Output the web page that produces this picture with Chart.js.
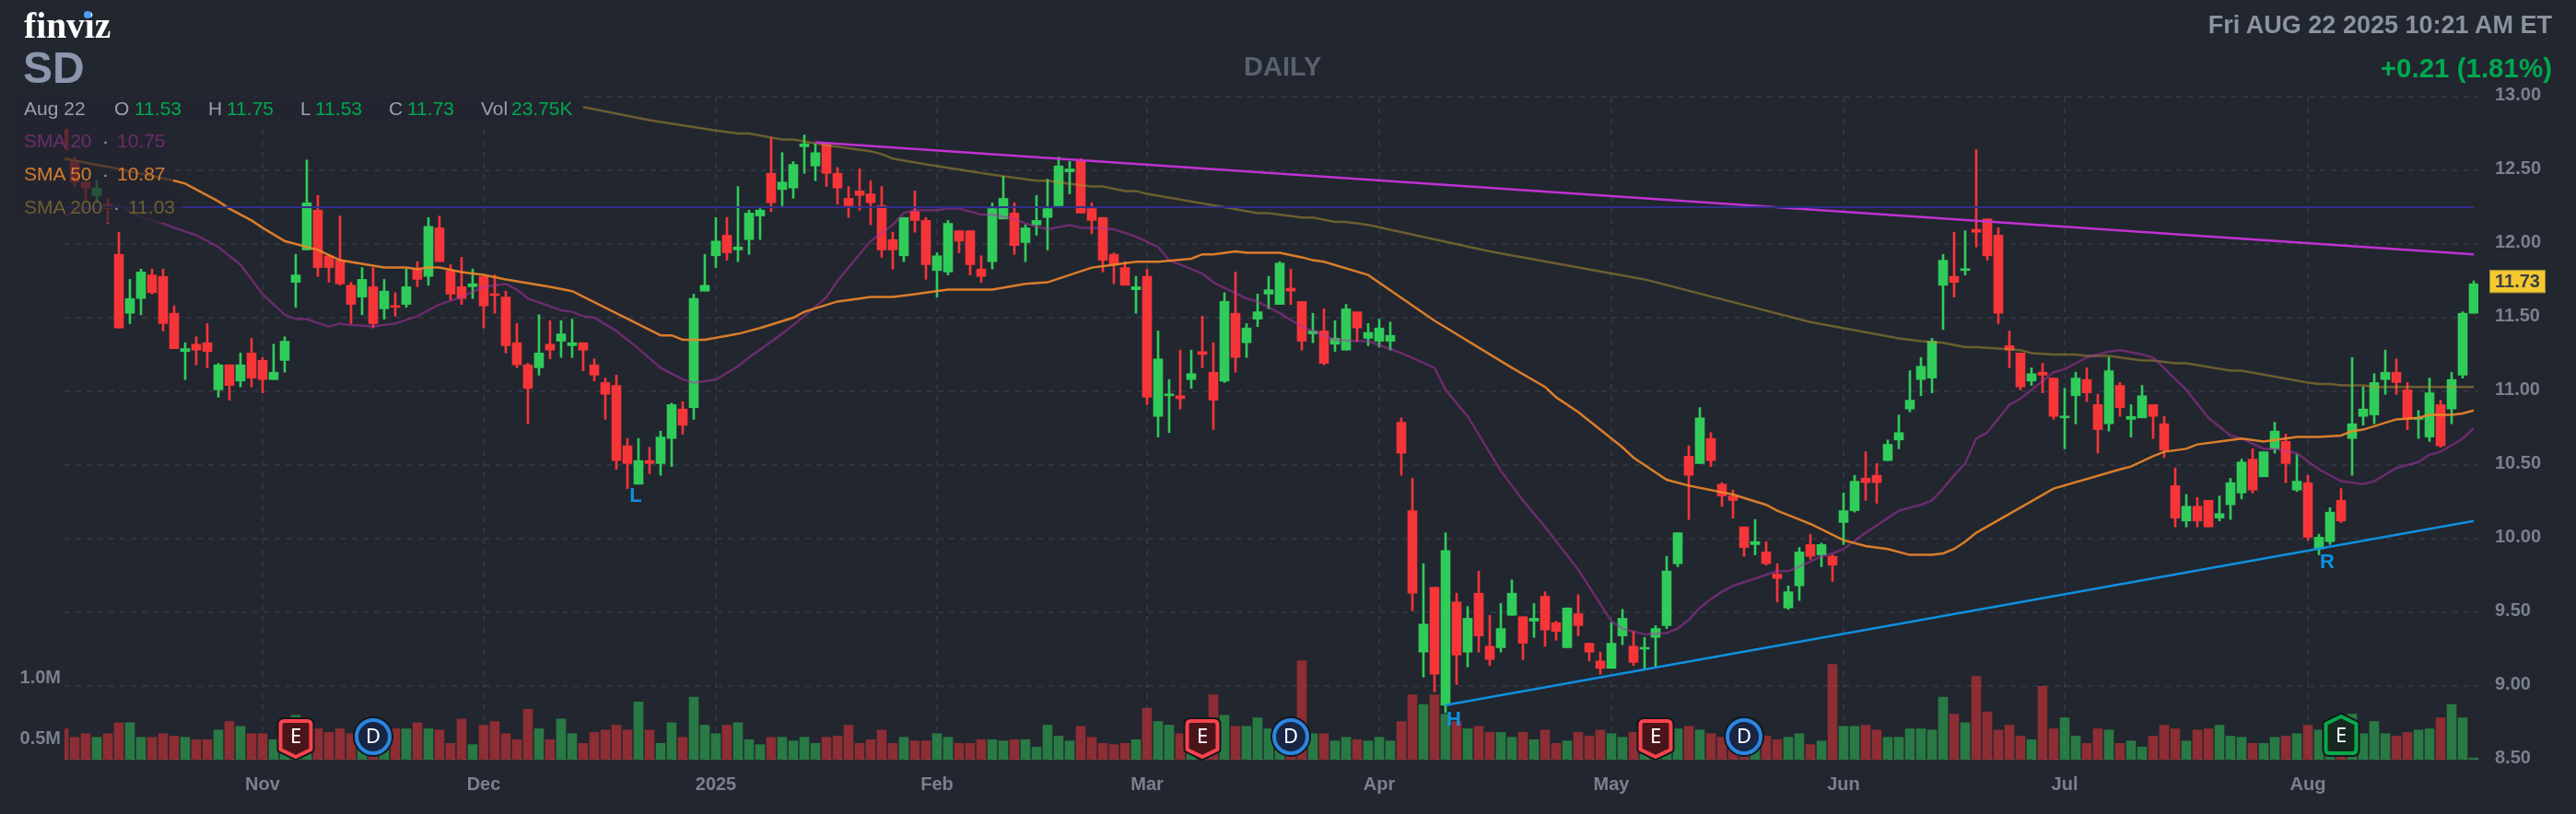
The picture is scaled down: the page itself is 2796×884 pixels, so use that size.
<!DOCTYPE html>
<html>
<head>
<meta charset="utf-8">
<title>SD daily</title>
<style>
  html, body { margin: 0; padding: 0; background: #22262f; }
  #wrap { position: relative; width: 2796px; height: 884px; overflow: hidden; font-family: "Liberation Sans", Arial, sans-serif; }
  #chart { position: absolute; left: 0; top: 0; }
  .t { position: absolute; white-space: nowrap; line-height: 1; }
  .row { position: absolute; left: 14px; height: 36px; background: rgba(34, 38, 47, 0.72); }
  .lab { color: #9a9fac; font-size: 21px; }
  .val { color: #00a84f; font-size: 21px; }
</style>
</head>
<body>
<div id="wrap">
  <canvas id="chart" width="2796" height="884"></canvas>

  <div class="row" style="top:99px;width:617px"></div>
  <div class="row" style="top:134px;width:165px"></div>
  <div class="row" style="top:170px;width:174px"></div>
  <div class="row" style="top:206px;width:184px"></div>

  <div class="t" style="left:26px;top:5px;font:bold 39.5px 'Liberation Serif',serif;color:#fff;letter-spacing:0">finviz</div>
  <div style="position:absolute;left:91px;top:12px;width:8px;height:8px;border-radius:50%;background:#4a9eff"></div>
  <div class="t" style="left:25px;top:50px;font-size:48px;font-weight:bold;color:#8b95ad">SD</div>

  <div class="t lab" style="left:26px;top:107px">Aug 22</div>
  <div class="t lab" style="left:124px;top:107px">O</div><div class="t val" style="left:146px;top:107px">11.53</div>
  <div class="t lab" style="left:226px;top:107px">H</div><div class="t val" style="left:246px;top:107px">11.75</div>
  <div class="t lab" style="left:326px;top:107px">L</div><div class="t val" style="left:342px;top:107px">11.53</div>
  <div class="t lab" style="left:422px;top:107px">C</div><div class="t val" style="left:442px;top:107px">11.73</div>
  <div class="t lab" style="left:522px;top:107px">Vol</div><div class="t val" style="left:555px;top:107px">23.75K</div>

  <div class="t" style="left:26px;top:142px;font-size:21px;color:#6e2c6c">SMA 20</div>
  <div class="t" style="left:111px;top:142px;font-size:21px;color:#9a9fac">·</div>
  <div class="t" style="left:127px;top:142px;font-size:21px;color:#6e2c6c">10.75</div>
  <div class="t" style="left:26px;top:178px;font-size:21px;color:#d67c2e">SMA 50</div>
  <div class="t" style="left:111px;top:178px;font-size:21px;color:#9a9fac">·</div>
  <div class="t" style="left:127px;top:178px;font-size:21px;color:#d67c2e">10.87</div>
  <div class="t" style="left:26px;top:214px;font-size:21px;color:#6e5f32">SMA 200</div>
  <div class="t" style="left:123px;top:214px;font-size:21px;color:#9a9fac">·</div>
  <div class="t" style="left:139px;top:214px;font-size:21px;color:#6e5f32">11.03</div>

  <div class="t" style="left:1350px;top:58px;font-size:29px;font-weight:bold;color:#596070">DAILY</div>
  <div class="t" style="right:26px;top:14px;font-size:27px;font-weight:bold;color:#8b92a0">Fri AUG 22 2025 10:21 AM ET</div>
  <div class="t" style="right:26px;top:59px;font-size:29.5px;font-weight:bold;color:#00a84f">+0.21 (1.81%)</div>
</div>

<script src="https://cdn.jsdelivr.net/npm/chart.js@4/dist/chart.umd.min.js"></script>
<script>
const opens = [
  12.78, 12.56, 12.42, 12.33, 12.27, 11.93, 11.53, 11.63, 11.79, 11.78,
  11.53, 11.27, 11.32, 11.33, 11.01, 11.18, 11.07, 11.26, 11.21, 11.08,
  11.21, 11.74, 11.96, 12.23, 11.92, 11.89, 11.72, 11.64, 11.71, 11.56,
  11.58, 11.59, 11.83, 11.78, 12.11, 11.82, 11.71, 11.71, 11.78, 11.66,
  11.64, 11.33, 11.18, 11.16, 11.32, 11.34, 11.31, 11.33, 11.18, 11.06,
  11.04, 10.63, 10.37, 10.53, 10.51, 10.68, 10.88, 10.89, 11.68, 11.92,
  12.06, 11.96, 12.03, 12.19, 12.48, 12.37, 12.38, 12.66, 12.53, 12.68,
  12.48, 12.31, 12.36, 12.34, 12.26, 12.03, 11.92, 12.22, 12.16, 11.82,
  11.81, 12.09, 12.09, 11.83, 11.88, 12.17, 12.21, 12.01, 12.13, 12.18,
  12.26, 12.49, 12.57, 12.24, 12.18, 11.93, 11.84, 11.69, 11.78, 10.83,
  10.97, 10.97, 11.08, 11.27, 11.13, 11.07, 11.53, 11.33, 11.49, 11.66,
  11.59, 11.70, 11.61, 11.39, 11.41, 11.32, 11.28, 11.54, 11.36, 11.34,
  11.34, 10.79, 10.19, 9.23, 9.67, 8.87, 9.57, 9.23, 9.63, 9.27,
  9.26, 9.48, 9.47, 9.44, 9.61, 9.43, 9.26, 9.49, 9.29, 9.17,
  9.12, 9.34, 9.27, 9.25, 9.33, 9.41, 9.83, 10.56, 10.51, 10.68,
  10.37, 10.29, 10.08, 9.96, 9.91, 9.76, 9.53, 9.68, 9.96, 9.89,
  9.88, 10.11, 10.19, 10.41, 10.43, 10.53, 10.67, 10.88, 11.08, 11.09,
  11.72, 11.78, 11.82, 12.10, 12.17, 12.06, 11.31, 11.26, 11.07, 11.13,
  11.09, 10.82, 10.97, 11.08, 10.91, 10.78, 11.04, 10.81, 10.82, 10.91,
  10.78, 10.36, 10.12, 10.22, 10.26, 10.14, 10.23, 10.31, 10.54, 10.42,
  10.61, 10.66, 10.33, 10.38, 9.93, 9.98, 10.26, 10.68, 10.83, 10.84,
  11.08, 11.13, 11.01, 10.81, 10.69, 10.91, 10.88, 11.11, 11.53,
];
const highs = [
  12.78, 12.59, 12.42, 12.43, 12.31, 12.08, 11.76, 11.83, 11.83, 11.83,
  11.58, 11.33, 11.37, 11.46, 11.19, 11.18, 11.26, 11.36, 11.23, 11.32,
  11.37, 11.93, 12.57, 12.33, 11.93, 12.19, 11.74, 11.84, 11.84, 11.76,
  11.67, 11.83, 11.88, 12.18, 12.19, 11.86, 11.91, 11.83, 11.78, 11.79,
  11.68, 11.46, 11.19, 11.52, 11.48, 11.48, 11.49, 11.33, 11.22, 11.09,
  11.11, 10.68, 10.68, 10.62, 10.73, 10.92, 10.93, 11.66, 11.93, 12.18,
  12.18, 12.39, 12.23, 12.24, 12.72, 12.62, 12.56, 12.74, 12.68, 12.69,
  12.52, 12.39, 12.51, 12.43, 12.39, 12.08, 12.18, 12.36, 12.18, 11.94,
  12.16, 12.09, 12.09, 11.92, 12.28, 12.46, 12.28, 12.13, 12.33, 12.44,
  12.59, 12.56, 12.58, 12.28, 12.18, 11.94, 11.88, 11.78, 11.83, 11.41,
  11.08, 11.28, 11.28, 11.51, 11.33, 11.67, 11.81, 11.46, 11.66, 11.78,
  11.88, 11.83, 11.61, 11.53, 11.56, 11.48, 11.59, 11.54, 11.46, 11.49,
  11.47, 10.82, 10.41, 9.83, 9.67, 10.04, 9.63, 9.54, 9.78, 9.48,
  9.56, 9.72, 9.47, 9.56, 9.64, 9.44, 9.53, 9.62, 9.29, 9.23,
  9.43, 9.52, 9.37, 9.33, 9.41, 9.88, 10.04, 10.63, 10.89, 10.72,
  10.38, 10.33, 10.08, 10.13, 9.98, 9.83, 9.68, 9.94, 10.03, 9.97,
  9.89, 10.31, 10.43, 10.59, 10.51, 10.67, 10.84, 11.14, 11.23, 11.36,
  11.93, 12.08, 12.09, 12.64, 12.17, 12.11, 11.41, 11.26, 11.16, 11.19,
  11.09, 11.02, 11.13, 11.16, 10.98, 11.23, 11.06, 10.91, 11.04, 10.91,
  10.83, 10.48, 10.30, 10.28, 10.26, 10.29, 10.41, 10.54, 10.61, 10.59,
  10.79, 10.71, 10.57, 10.43, 10.03, 10.21, 10.34, 11.23, 11.03, 11.12,
  11.28, 11.22, 11.06, 10.87, 11.09, 10.94, 11.13, 11.54, 11.75,
];
const lows = [
  12.64, 12.39, 12.29, 12.28, 12.14, 11.43, 11.46, 11.52, 11.66, 11.41,
  11.29, 11.08, 11.18, 11.16, 10.96, 10.94, 11.03, 11.03, 10.99, 11.08,
  11.13, 11.57, 11.96, 11.78, 11.74, 11.72, 11.46, 11.52, 11.43, 11.49,
  11.51, 11.57, 11.71, 11.72, 11.88, 11.62, 11.59, 11.63, 11.43, 11.53,
  11.26, 11.16, 10.78, 11.11, 11.22, 11.23, 11.23, 11.14, 11.07, 10.81,
  10.47, 10.34, 10.37, 10.44, 10.43, 10.49, 10.71, 10.81, 11.68, 11.84,
  11.89, 11.88, 11.93, 12.03, 12.22, 12.26, 12.31, 12.48, 12.43, 12.39,
  12.27, 12.18, 12.23, 12.13, 11.91, 11.83, 11.88, 12.08, 11.76, 11.64,
  11.79, 11.94, 11.79, 11.74, 11.83, 12.17, 11.93, 11.88, 12.06, 11.96,
  12.26, 12.34, 12.21, 12.07, 11.81, 11.73, 11.72, 11.53, 10.91, 10.69,
  10.72, 10.88, 11.02, 11.16, 10.74, 11.06, 11.13, 11.23, 11.44, 11.56,
  11.59, 11.59, 11.28, 11.33, 11.18, 11.27, 11.28, 11.34, 11.31, 11.30,
  11.28, 10.43, 9.51, 9.06, 8.96, 8.82, 9.01, 9.13, 9.23, 9.14,
  9.23, 9.48, 9.18, 9.33, 9.27, 9.31, 9.26, 9.34, 9.17, 9.08,
  9.12, 9.28, 9.14, 9.12, 9.13, 9.39, 9.81, 10.13, 10.51, 10.49,
  10.22, 10.14, 9.88, 9.89, 9.82, 9.57, 9.52, 9.58, 9.86, 9.81,
  9.71, 9.96, 10.18, 10.26, 10.24, 10.53, 10.61, 10.86, 10.97, 10.99,
  11.42, 11.64, 11.79, 11.98, 11.89, 11.46, 11.16, 11.01, 11.04, 10.99,
  10.81, 10.61, 10.78, 10.93, 10.58, 10.73, 10.83, 10.69, 10.82, 10.68,
  10.55, 10.08, 10.08, 10.08, 10.08, 10.12, 10.13, 10.27, 10.31, 10.42,
  10.58, 10.38, 10.32, 9.99, 9.89, 9.96, 10.11, 10.43, 10.77, 10.78,
  10.98, 10.98, 10.74, 10.68, 10.66, 10.62, 10.78, 11.09, 11.53,
];
const closes = [
  12.64, 12.42, 12.38, 12.38, 12.24, 11.43, 11.63, 11.81, 11.67, 11.46,
  11.29, 11.29, 11.28, 11.27, 11.18, 11.04, 11.18, 11.09, 11.08, 11.13,
  11.34, 11.79, 12.28, 11.84, 11.84, 11.73, 11.59, 11.76, 11.46, 11.68,
  11.57, 11.71, 11.76, 12.12, 11.88, 11.66, 11.63, 11.73, 11.58, 11.65,
  11.31, 11.18, 11.02, 11.26, 11.28, 11.39, 11.33, 11.28, 11.11, 10.98,
  10.53, 10.51, 10.53, 10.51, 10.69, 10.91, 10.77, 11.63, 11.72, 12.02,
  11.94, 11.98, 12.21, 12.23, 12.28, 12.42, 12.54, 12.68, 12.62, 12.48,
  12.38, 12.26, 12.33, 12.28, 11.96, 11.96, 12.18, 12.16, 11.86, 11.92,
  12.14, 12.02, 11.86, 11.78, 12.24, 12.31, 11.99, 12.11, 12.16, 12.24,
  12.53, 12.51, 12.21, 12.16, 11.89, 11.86, 11.72, 11.71, 10.96, 11.22,
  10.98, 10.95, 11.12, 11.25, 10.94, 11.61, 11.23, 11.43, 11.54, 11.69,
  11.87, 11.68, 11.34, 11.41, 11.19, 11.36, 11.56, 11.43, 11.40, 11.43,
  11.38, 10.58, 9.63, 9.42, 9.08, 9.92, 9.21, 9.46, 9.34, 9.18,
  9.39, 9.63, 9.29, 9.46, 9.38, 9.37, 9.53, 9.41, 9.23, 9.12,
  9.29, 9.46, 9.16, 9.26, 9.39, 9.78, 10.04, 10.43, 10.82, 10.53,
  10.29, 10.26, 9.94, 9.98, 9.83, 9.73, 9.64, 9.91, 9.88, 9.96,
  9.82, 10.19, 10.39, 10.38, 10.38, 10.64, 10.72, 10.94, 11.17, 11.34,
  11.89, 11.74, 11.83, 12.08, 11.92, 11.53, 11.28, 11.03, 11.12, 11.11,
  10.83, 10.83, 11.09, 10.99, 10.74, 11.14, 10.89, 10.83, 10.97, 10.83,
  10.60, 10.14, 10.22, 10.12, 10.08, 10.17, 10.38, 10.52, 10.33, 10.59,
  10.73, 10.51, 10.39, 10.01, 10.01, 10.18, 10.12, 10.78, 10.88, 11.06,
  11.13, 11.06, 10.81, 10.82, 10.99, 10.63, 11.08, 11.53, 11.73,
];
// volume in millions
const volumes = [
  0.58, 0.51, 0.54, 0.51, 0.54, 0.63, 0.63, 0.51, 0.51, 0.54,
  0.52, 0.51, 0.49, 0.49, 0.57, 0.64, 0.60, 0.54, 0.54, 0.49,
  0.52, 0.69, 0.56, 0.58, 0.55, 0.58, 0.54, 0.52, 0.55, 0.52,
  0.58, 0.58, 0.63, 0.58, 0.57, 0.46, 0.66, 0.45, 0.61, 0.64,
  0.54, 0.49, 0.74, 0.58, 0.49, 0.66, 0.54, 0.46, 0.55, 0.57,
  0.61, 0.57, 0.80, 0.57, 0.46, 0.63, 0.51, 0.84, 0.61, 0.54,
  0.61, 0.63, 0.49, 0.45, 0.51, 0.51, 0.48, 0.51, 0.46, 0.51,
  0.52, 0.61, 0.46, 0.49, 0.57, 0.46, 0.51, 0.48, 0.48, 0.54,
  0.51, 0.46, 0.46, 0.49, 0.49, 0.48, 0.49, 0.49, 0.43, 0.61,
  0.52, 0.48, 0.60, 0.51, 0.46, 0.45, 0.46, 0.49, 0.75, 0.64,
  0.61, 0.54, 0.52, 0.50, 0.86, 0.69, 0.60, 0.60, 0.67, 0.58,
  0.55, 0.55, 1.14, 0.54, 0.54, 0.48, 0.51, 0.49, 0.48, 0.51,
  0.48, 0.64, 0.86, 0.78, 0.86, 0.70, 0.64, 0.58, 0.60, 0.55,
  0.55, 0.51, 0.55, 0.49, 0.57, 0.46, 0.48, 0.55, 0.52, 0.57,
  0.54, 0.51, 0.55, 0.52, 0.55, 0.55, 0.58, 0.60, 0.57, 0.54,
  0.51, 0.52, 0.50, 0.47, 0.52, 0.49, 0.51, 0.54, 0.45, 0.48,
  1.11, 0.60, 0.60, 0.61, 0.57, 0.51, 0.51, 0.58, 0.58, 0.57,
  0.84, 0.70, 0.63, 1.01, 0.72, 0.57, 0.61, 0.52, 0.49, 0.93,
  0.58, 0.67, 0.52, 0.46, 0.58, 0.57, 0.46, 0.48, 0.43, 0.52,
  0.61, 0.58, 0.48, 0.57, 0.58, 0.61, 0.52, 0.51, 0.46, 0.46,
  0.51, 0.52, 0.54, 0.61, 0.57, 0.55, 0.50, 0.70, 0.54, 0.64,
  0.54, 0.52, 0.55, 0.57, 0.58, 0.67, 0.78, 0.67, 0.34,
];

const sma20Idx = [
  0, 2, 5, 7, 9, 10, 12, 14, 16, 18, 20, 21, 22, 24, 25, 26, 28, 30, 32, 34, 36, 38, 40, 41, 42, 45, 46, 47, 48, 50,
  52, 54, 56, 57, 59, 61, 62, 65, 67, 69, 70, 73, 75, 76, 77, 79, 80, 81, 83, 84, 86, 87, 89, 91, 92, 93, 95, 97, 99, 100,
  102, 103, 104, 107, 108, 110, 112, 114, 115, 117, 118, 121, 124, 125, 127, 130, 132, 134, 137, 140, 141, 143, 145, 146, 147, 148, 149, 150, 151, 155,
  156, 157, 159, 160, 161, 163, 165, 166, 167, 168, 169, 170, 171, 172, 173, 174, 176, 177, 180, 181, 183, 185, 186, 188, 189, 192, 194, 196, 197, 199,
  200, 202, 204, 206, 208, 209, 211, 213, 214, 215, 217, 218,
];
const sma20 = [
  12.19, 12.24, 12.26, 12.18, 12.14, 12.11, 12.06, 11.98, 11.86, 11.66, 11.52, 11.49, 11.49, 11.44, 11.46, 11.45, 11.44, 11.46, 11.51, 11.59, 11.64, 11.71, 11.73, 11.69, 11.63, 11.55, 11.54, 11.51, 11.50, 11.41,
  11.29, 11.16, 11.08, 11.06, 11.08, 11.17, 11.23, 11.39, 11.51, 11.64, 11.75, 12.02, 12.13, 12.21, 12.23, 12.23, 12.24, 12.24, 12.20, 12.20, 12.17, 12.14, 12.10, 12.13, 12.11, 12.11, 12.10, 12.05, 11.98, 11.89,
  11.83, 11.80, 11.74, 11.63, 11.61, 11.53, 11.44, 11.38, 11.35, 11.34, 11.34, 11.26, 11.16, 11.01, 10.83, 10.46, 10.26, 10.08, 9.79, 9.44, 9.39, 9.35, 9.36, 9.39, 9.45, 9.53, 9.59, 9.64, 9.68, 9.78,
  9.78, 9.81, 9.88, 9.90, 9.93, 10.04, 10.14, 10.19, 10.21, 10.23, 10.26, 10.34, 10.43, 10.51, 10.68, 10.72, 10.91, 10.95, 11.13, 11.15, 11.23, 11.27, 11.28, 11.25, 11.23, 11.01, 10.82, 10.70, 10.68, 10.61,
  10.61, 10.58, 10.47, 10.39, 10.37, 10.39, 10.48, 10.52, 10.57, 10.59, 10.68, 10.75,
];
const sma50Idx = [
  0, 5, 10, 11, 14, 15, 17, 18, 20, 23, 25, 29, 31, 32, 33, 34, 36, 38, 40, 44, 46, 54, 55, 56, 58, 61, 63, 66, 67, 70,
  72, 73, 75, 77, 78, 80, 84, 87, 89, 93, 95, 97, 99, 102, 103, 104, 106, 107, 110, 112, 113, 114, 118, 124, 131, 134, 135, 137, 141, 142,
  145, 147, 151, 154, 155, 157, 158, 161, 163, 165, 167, 169, 170, 171, 172, 173, 180, 186, 187, 189, 190, 192, 193, 195, 197, 199, 201, 202, 204, 206,
  207, 208, 211, 213, 214, 216, 217, 218,
];
const sma50 = [
  12.58, 12.51, 12.43, 12.41, 12.29, 12.24, 12.16, 12.11, 12.02, 11.96, 11.89, 11.84, 11.84, 11.83, 11.84, 11.84, 11.81, 11.79, 11.76, 11.71, 11.68, 11.38, 11.38, 11.35, 11.35, 11.39, 11.43, 11.50, 11.54, 11.61,
  11.63, 11.64, 11.64, 11.66, 11.67, 11.69, 11.69, 11.73, 11.74, 11.84, 11.86, 11.88, 11.88, 11.90, 11.93, 11.93, 11.95, 11.94, 11.94, 11.91, 11.89, 11.88, 11.79, 11.48, 11.16, 11.03, 10.96, 10.86, 10.62, 10.55,
  10.40, 10.36, 10.30, 10.23, 10.19, 10.13, 10.10, 9.99, 9.95, 9.93, 9.89, 9.89, 9.90, 9.93, 9.98, 10.04, 10.34, 10.47, 10.49, 10.56, 10.59, 10.61, 10.64, 10.66, 10.68, 10.66, 10.68, 10.69, 10.69, 10.70,
  10.73, 10.74, 10.81, 10.82, 10.84, 10.84, 10.85, 10.87,
];
const sma200Idx = [
  47, 53, 59, 61, 62, 65, 66, 69, 73, 74, 75, 78, 84, 88, 89, 91, 93, 94, 96, 97, 98, 105, 108, 109, 112, 113, 115, 116, 118, 129,
  143, 158, 166, 168, 170, 172, 173, 175, 177, 178, 180, 182, 183, 185, 186, 188, 189, 191, 192, 196, 197, 203, 204, 205, 206, 208, 209, 218,
];
const sma200 = [
  12.93, 12.84, 12.77, 12.75, 12.75, 12.71, 12.71, 12.67, 12.63, 12.61, 12.58, 12.54, 12.47, 12.43, 12.43, 12.41, 12.39, 12.39, 12.36, 12.36, 12.34, 12.25, 12.21, 12.21, 12.18, 12.18, 12.15, 12.15, 12.13, 11.95,
  11.76, 11.47, 11.36, 11.34, 11.33, 11.30, 11.30, 11.29, 11.28, 11.26, 11.25, 11.25, 11.24, 11.24, 11.23, 11.21, 11.21, 11.19, 11.19, 11.14, 11.14, 11.06, 11.05, 11.05, 11.04, 11.04, 11.03, 11.03,
];

// drawn trend lines: [index, price] pairs
const resistIdx = [68, 218];
const resistLine = [12.69, 11.93];
const supportIdx = [125, 218];
const supportLine = [8.87, 10.12];
const levelIdx = [0, 218];
const levelLine = [12.25, 12.25];

const monthIdx = [18, 38, 59, 79, 98, 119, 140, 161, 181, 203];
const monthLabels = ["Nov", "Dec", "2025", "Feb", "Mar", "Apr", "May", "Jun", "Jul", "Aug"];
const volTicks = [0.5, 1.0];

const patternLetters = ["L", "H", "R"];
const patternIdx = [51, 125, 204];
const earningsIdx = [21, 103, 144];
const dividendIdx = [28, 111, 152];
const earningsUpIdx = [206];

const GREEN = "#30cc5a";
const RED = "#f63538";
const TICK = "#7a8090";
const GRID = "#30343f";
const FONT = "'Liberation Sans', Arial, sans-serif";

const candleIdx = closes.map((_, i) => i);
const candleColors = closes.map((c, i) => (c >= opens[i] ? GREEN : RED));
const volumeColors = closes.map((c, i) => (c >= opens[i] ? "rgba(48,204,90,0.5)" : "rgba(246,53,56,0.5)"));

function linePoints(idx, values) {
  return idx.map((x, k) => ({ x, y: values[k] }));
}

function lineSet(idx, values, color, order, width = 2.5) {
  return {
    type: "line",
    data: linePoints(idx, values),
    borderColor: color,
    borderWidth: width,
    pointRadius: 0,
    tension: 0,
    order,
    yAxisID: "y",
  };
}

function shield(ctx, x, top, w, h, tip) {
  const l = x - w / 2;
  const r = x + w / 2;
  ctx.beginPath();
  ctx.moveTo(l + 4, top);
  ctx.lineTo(r - 4, top);
  ctx.quadraticCurveTo(r, top, r, top + 4);
  ctx.lineTo(r, top + h - tip);
  ctx.lineTo(x, top + h);
  ctx.lineTo(l, top + h - tip);
  ctx.lineTo(l, top + 4);
  ctx.quadraticCurveTo(l, top, l + 4, top);
  ctx.closePath();
}

function house(ctx, x, top, w, h, tip) {
  const l = x - w / 2;
  const r = x + w / 2;
  const b = top + h;
  ctx.beginPath();
  ctx.moveTo(x, top);
  ctx.lineTo(r, top + tip);
  ctx.lineTo(r, b - 4);
  ctx.quadraticCurveTo(r, b, r - 4, b);
  ctx.lineTo(l + 4, b);
  ctx.quadraticCurveTo(l, b, l, b - 4);
  ctx.lineTo(l, top + tip);
  ctx.closePath();
}

function paintBadge(ctx, fill, stroke) {
  ctx.lineJoin = "round";
  ctx.lineWidth = 8;
  ctx.strokeStyle = "#14161c";
  ctx.stroke();
  ctx.fillStyle = fill;
  ctx.fill();
  ctx.lineWidth = 4;
  ctx.strokeStyle = stroke;
  ctx.stroke();
}

function badgeLetter(ctx, letter, x, y) {
  ctx.fillStyle = "#ffffff";
  ctx.font = `22px 'Noto Sans', ${FONT}`;
  ctx.textAlign = "center";
  ctx.textBaseline = "middle";
  ctx.fillText(letter, x, y);
}

const marksPlugin = {
  id: "marks",
  afterDatasetsDraw(chart) {
    const { ctx, scales, chartArea } = chart;
    const xs = scales.x;
    const ys = scales.y;
    const bottom = chartArea.bottom;
    ctx.save();

    // pattern letters under the candle lows
    ctx.fillStyle = "#0f8fe0";
    ctx.font = `bold 22px ${FONT}`;
    ctx.textAlign = "center";
    ctx.textBaseline = "middle";
    patternLetters.forEach((letter, k) => {
      const i = patternIdx[k];
      ctx.fillText(letter, xs.getPixelForValue(i) + 9, ys.getPixelForValue(lows[i]) + 8);
    });

    earningsIdx.forEach((i) => {
      const x = xs.getPixelForValue(i);
      shield(ctx, x, bottom - 42, 33, 39, 8);
      paintBadge(ctx, "#4a151a", "#f8434d");
      badgeLetter(ctx, "E", x, bottom - 24);
    });

    dividendIdx.forEach((i) => {
      const x = xs.getPixelForValue(i);
      ctx.beginPath();
      ctx.arc(x, bottom - 25, 18, 0, Math.PI * 2);
      paintBadge(ctx, "#182544", "#2b86e0");
      badgeLetter(ctx, "D", x, bottom - 24);
    });

    earningsUpIdx.forEach((i) => {
      const x = xs.getPixelForValue(i);
      house(ctx, x, bottom - 47, 33, 40, 8);
      paintBadge(ctx, "#16281f", "#0aa84a");
      badgeLetter(ctx, "E", x, bottom - 25);
    });

    // last price tag on the axis
    const last = closes[closes.length - 1];
    const tagY = ys.getPixelForValue(last) - 3;
    ctx.fillStyle = "#f5c830";
    ctx.strokeStyle = "#a08a2c";
    ctx.lineWidth = 1;
    ctx.fillRect(2702, tagY - 12, 61, 25);
    ctx.strokeRect(2702.5, tagY - 11.5, 60, 24);
    ctx.fillStyle = "#3c3f46";
    ctx.font = `bold 20px ${FONT}`;
    ctx.textAlign = "left";
    ctx.textBaseline = "middle";
    ctx.fillText(last.toFixed(2), 2708, tagY + 1);

    ctx.restore();
  },
};

new Chart(document.getElementById("chart"), {
  data: {
    datasets: [
      {
        type: "bar",
        data: linePoints(candleIdx, volumes),
        backgroundColor: volumeColors,
        barThickness: 10,
        grouped: false,
        order: 6,
        yAxisID: "vol",
      },
      {
        type: "bar",
        data: linePoints(candleIdx, lows.map((l, i) => [l, highs[i]])),
        backgroundColor: candleColors,
        barThickness: 2,
        grouped: false,
        order: 5,
        yAxisID: "y",
      },
      {
        type: "bar",
        data: linePoints(candleIdx, opens.map((o, i) => [o, closes[i]])),
        backgroundColor: candleColors,
        barThickness: 10,
        minBarLength: 2,
        grouped: false,
        order: 4,
        yAxisID: "y",
      },
      lineSet(sma20Idx, sma20, "rgba(180,50,170,0.5)", 3),
      lineSet(sma200Idx, sma200, "rgba(180,150,50,0.5)", 3),
      lineSet(sma50Idx, sma50, "rgba(238,135,42,0.9)", 2),
      lineSet(levelIdx, levelLine, "#30308c", 1, 2),
      lineSet(resistIdx, resistLine, "#c032d2", 1),
      lineSet(supportIdx, supportLine, "#0f8fe0", 1),
    ],
  },
  options: {
    responsive: false,
    animation: false,
    devicePixelRatio: 1,
    parsing: { xAxisKey: "x", yAxisKey: "y" },
    layout: { padding: { top: 105, left: 0, right: 0, bottom: 0 } },
    plugins: { legend: { display: false }, tooltip: { enabled: false } },
    scales: {
      x: {
        type: "linear",
        offset: false,
        min: 1 / 12,
        max: 218 + 5 / 12,
        afterBuildTicks(scale) {
          scale.ticks = monthIdx.map((value) => ({ value }));
        },
        afterFit(scale) {
          scale.height = 59;
        },
        grid: { color: GRID, lineWidth: 2, drawTicks: false, offset: false },
        border: { display: false, dash: [6, 6] },
        ticks: {
          autoSkip: false,
          maxRotation: 0,
          padding: 15,
          color: TICK,
          font: { family: FONT, size: 20, weight: "bold" },
          callback(value) {
            return monthLabels[monthIdx.indexOf(value)];
          },
        },
      },
      y: {
        position: "right",
        min: 8.5,
        max: 13,
        afterFit(scale) {
          scale.width = 106;
        },
        grid: { color: GRID, lineWidth: 2, drawTicks: false },
        border: { display: false, dash: [6, 6] },
        ticks: {
          stepSize: 0.5,
          padding: 18,
          labelOffset: -2,
          color: TICK,
          font: { family: FONT, size: 20, weight: "bold" },
          callback(value) {
            return value.toFixed(2);
          },
        },
      },
      vol: {
        position: "left",
        min: 0.326,
        max: 5.78,
        afterBuildTicks(scale) {
          scale.ticks = volTicks.map((value) => ({ value }));
        },
        afterFit(scale) {
          scale.width = 70;
        },
        grid: { display: false, drawTicks: false },
        border: { display: false },
        ticks: {
          autoSkip: false,
          padding: 4,
          color: TICK,
          font: { family: FONT, size: 20, weight: "bold" },
          callback(value) {
            return `${value.toFixed(1)}M`;
          },
        },
      },
    },
  },
  plugins: [marksPlugin],
});
</script>
</body>
</html>
